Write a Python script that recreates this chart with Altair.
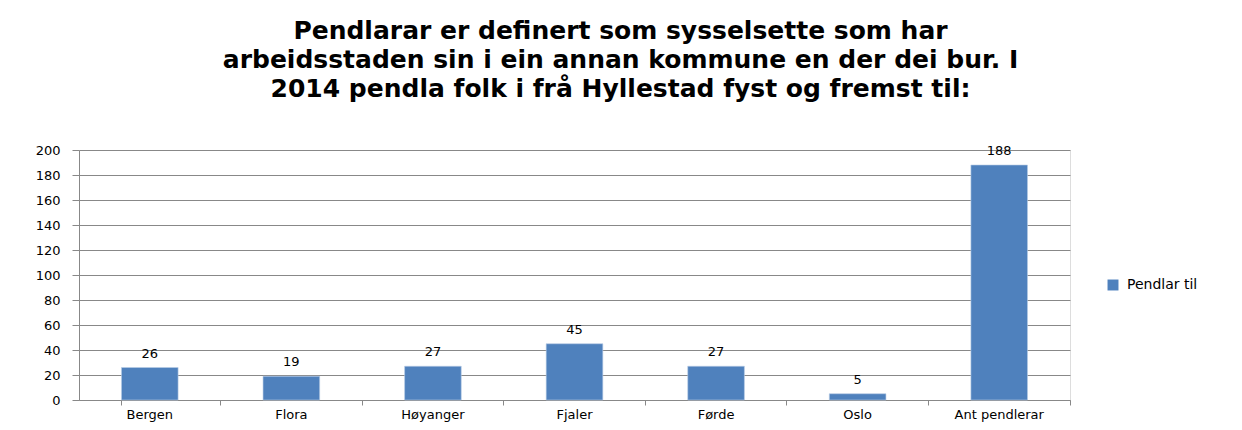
import altair as alt
import pandas as pd

categories = ["Bergen", "Flora", "Høyanger", "Fjaler", "Førde", "Oslo", "Ant pendlerar"]
values = [26, 19, 27, 45, 27, 5, 188]
series_name = "Pendlar til"
title_lines = [
    "Pendlarar er definert som sysselsette som har",
    "arbeidsstaden sin i ein annan kommune en der dei bur. I",
    "2014 pendla folk i frå Hyllestad fyst og fremst til:",
]
y_ticks = [0, 20, 40, 60, 80, 100, 120, 140, 160, 180, 200]

df = pd.DataFrame({"kommune": categories, "antal": values, "serie": [series_name] * len(categories)})

FONT = "DejaVu Sans"
FS = 13

x_enc = alt.X(
    "kommune:N",
    sort=categories,
    title=None,
    scale=alt.Scale(paddingInner=0.6, paddingOuter=0.3),
    axis=alt.Axis(
        labelAngle=0,
        labelFont=FONT,
        labelFontSize=FS,
        labelColor="#000000",
        labelPadding=3,
        bandPosition=1.75,
        tickExtra=True,
        tickSize=5,
        tickColor="#888888",
        domainColor="#888888",
        grid=False,
    ),
)

y_enc = alt.Y(
    "antal:Q",
    title=None,
    scale=alt.Scale(domain=[0, 200], nice=False, zero=True),
    axis=alt.Axis(
        values=y_ticks,
        labelOverlap=False,
        labelFont=FONT,
        labelFontSize=FS,
        labelColor="#000000",
        labelPadding=12,
        tickSize=7,
        tickColor="#888888",
        domainColor="#888888",
        gridColor="#888888",
        gridWidth=1,
    ),
)

bars = alt.Chart(df).mark_bar(color="#4F81BD", stroke="#B9CDE5", strokeWidth=0.6).encode(
    x=x_enc,
    y=y_enc,
    color=alt.Color(
        "serie:N",
        scale=alt.Scale(range=["#4F81BD"]),
        legend=alt.Legend(
            title=None,
            orient="none",
            legendX=1027,
            legendY=128,
            symbolType="square",
            symbolSize=120,
            symbolStrokeWidth=0,
            labelFont=FONT,
            labelFontSize=14,
            labelColor="#000000",
            labelOffset=7,
        ),
    ),
)

labels = alt.Chart(df).mark_text(
    font=FONT, fontSize=FS, color="#000000", baseline="bottom", dy=-7
).encode(
    x=x_enc,
    y=y_enc,
    text="antal:Q",
)

chart = (
    alt.layer(bars, labels)
    .properties(
        width=991,
        height=250,
        padding={"left": 71, "top": 142, "right": 164, "bottom": 22},
        autosize=alt.AutoSizeParams(type="none"),
        title=alt.TitleParams(
            text=title_lines,
            font=FONT,
            fontSize=25,
            fontWeight="bold",
            color="#000000",
            anchor="middle",
            frame="group",
            dx=46,
            lineHeight=29,
            offset=42,
        ),
    )
    .configure_view(strokeWidth=0, stroke="transparent")
    .configure(background="#ffffff")
)

chart.save("out.html", embed_options={"renderer": "svg", "actions": False})
